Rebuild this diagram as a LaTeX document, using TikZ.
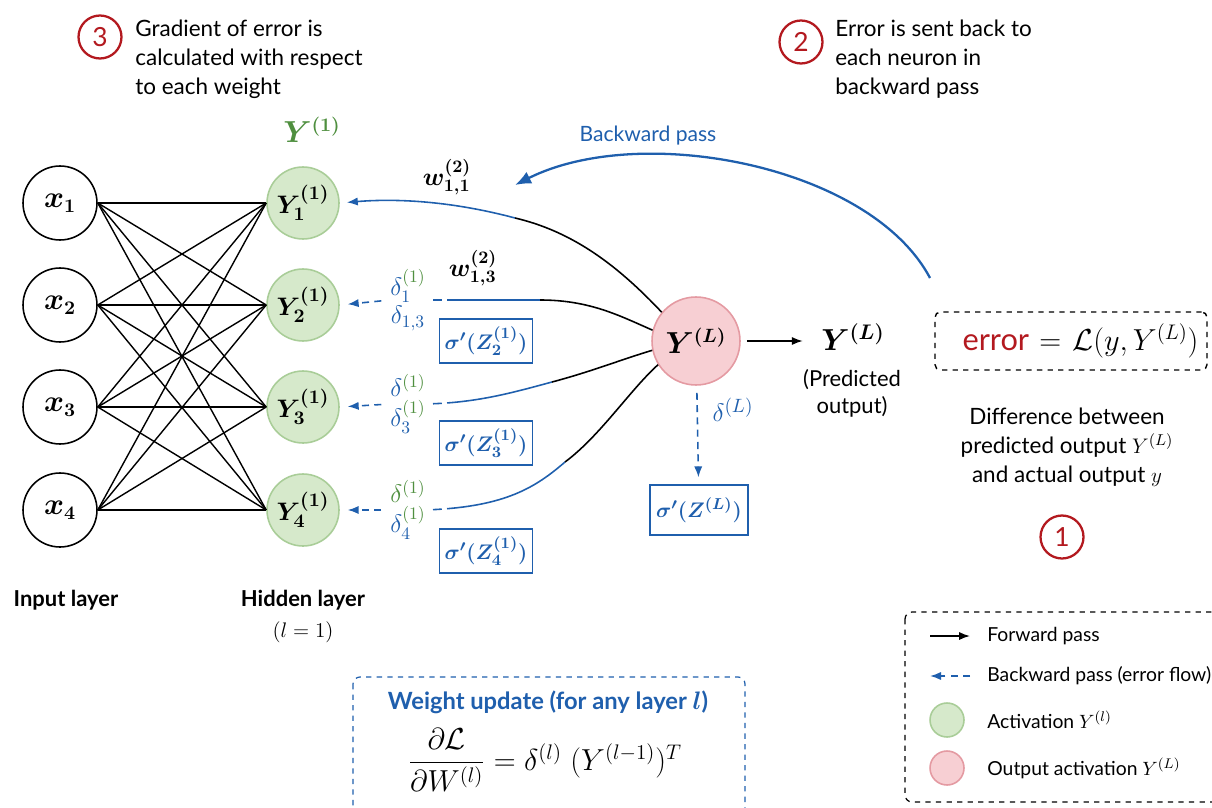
\documentclass[tikz,border=0pt]{standalone}
\usepackage{amssymb,amsmath}
\usepackage[no-math]{fontspec}
\setmainfont{Lato}
\usetikzlibrary{calc}
\usetikzlibrary{arrows.meta}
\usetikzlibrary{positioning}

\definecolor{bpblue}{HTML}{1F5FAD}
\definecolor{actgreen}{HTML}{4F8F3F}
\definecolor{gfill}{HTML}{D6E9CB}
\definecolor{gdraw}{HTML}{A9CD98}
\definecolor{pfill}{HTML}{F7CFD3}
\definecolor{pdraw}{HTML}{E49AA2}
\definecolor{errred}{HTML}{B3191F}

\tikzset{
  innode/.style={circle, draw=black, line width=0.9pt, minimum size=1.48cm, inner sep=0pt, font=\fontsize{16}{16}\selectfont},
  hidnode/.style={circle, draw=gdraw, fill=gfill, line width=0.9pt, minimum size=1.44cm, inner sep=0pt, font=\fontsize{15}{15}\selectfont},
  outnode/.style={circle, draw=pdraw, fill=pfill, line width=0.9pt, minimum size=1.76cm, inner sep=0pt, font=\fontsize{16}{16}\selectfont},
  sigbox/.style={draw=bpblue, line width=0.7pt, text=bpblue, minimum width=1.86cm, minimum height=0.88cm, inner sep=0pt, font=\fontsize{13}{13}\selectfont},
  badge/.style={circle, draw=errred, line width=1.3pt, text=errred, minimum size=0.86cm, inner sep=0pt, font=\fontsize{15}{15}\selectfont},
  note/.style={align=left, anchor=north west, inner sep=0pt, font=\fontsize{12.8}{16.5}\selectfont},
  dlabel/.style={align=center, text=bpblue, inner sep=0pt, font=\fontsize{14.5}{13}\selectfont},
  legtext/.style={anchor=west, inner sep=0pt, font=\fontsize{11}{11}\selectfont},
  fwd/.style={-{Latex[length=2.2mm]}, line width=0.9pt},
  bwd/.style={bpblue, line width=0.9pt, dash pattern=on 4pt off 3pt, -{Latex[length=2.2mm]}},
  bline/.style={bpblue, line width=0.9pt},
}

\begin{document}
\begin{tikzpicture}[x=0.02cm, y=-0.02cm]
    \useasboundingbox (0,0) rectangle (1212,807);
    \clip (0,0) rectangle (1212,807);

    % layers
    \foreach \i/\y in {1/203,2/305,3/407,4/510}{
        \node (x\i) [innode] at (60,\y) {$\boldsymbol{x_{\i}}$};
        \node (Y\i) [hidnode] at (303,\y) {$\boldsymbol{Y^{(1)}_{\i}}$};
    }
    \foreach \i in {1,...,4}
        \foreach \j in {1,...,4}
            \draw[line width=0.8pt] (x\i.east) -- (Y\j.west);
    \node (Ytop) [text=actgreen, font=\fontsize{16}{16}\selectfont] at (312,130) {$\boldsymbol{Y^{(1)}}$};

    \node (inlab) [font=\bfseries\fontsize{12.5}{15}\selectfont] at (66,600) {Input layer};
    \node (hidlab) [font=\bfseries\fontsize{12.5}{15}\selectfont] at (303,600) {Hidden layer};
    \node (lval) [font=\fontsize{13}{13}\selectfont] at (303,632) {$(l=1)$};

    % output
    \node (out) [outnode] at (696,341) {$\boldsymbol{Y^{(L)}}$};
    \node (pred) [font=\fontsize{17}{17}\selectfont] at (853,337) {$\boldsymbol{Y^{(L)}}$};
    \draw[fwd, shorten <=3.4pt, shorten >=7pt] (out.east) -- (out.east -| pred.west);
    \node (predtxt) [align=center, font=\fontsize{12.5}{15.5}\selectfont] at (852,393) {(Predicted\\output)};
    \node (sigL) [sigbox, minimum width=1.96cm, minimum height=1cm] at (699,510) {$\boldsymbol{\sigma'(Z^{(L)})}$};
    \draw[bwd, shorten <=4pt, shorten >=4pt] (out) -- (sigL);
    \node (dL) [text=bpblue, font=\fontsize{15}{15}\selectfont] at (733,410) {$\delta^{(L)}$};

    % backward flow to hidden layer
    \foreach \i/\y in {2/341,3/443,4/551}
        \node (sig\i) [sigbox] at (486,\y) {$\boldsymbol{\sigma'(Z^{(1)}_{\i})}$};
    \node (d2) [dlabel] at (408,300) {$\delta^{\textcolor{actgreen}{(1)}}_{1}$\\[1pt]$\delta_{1,3}$};
    \node (d3) [dlabel] at (408,404) {$\delta^{\textcolor{actgreen}{(1)}}$\\[1pt]$\delta^{\textcolor{actgreen}{(1)}}_{3}$};
    \node (d4) [dlabel] at (408,510) {$\textcolor{actgreen}{\delta^{(1)}}$\\[1pt]$\delta^{\textcolor{actgreen}{(1)}}_{4}$};
    \foreach \i in {2,3,4}
        \draw[bwd, shorten <=5pt, shorten >=4.5pt] (d\i.west) -- (Y\i.east);

    \coordinate (m1) at (515,218);
    \coordinate (m2) at (540,300);
    \coordinate (m3) at (552,382);
    \coordinate (m4) at (565,462);
    \draw[line width=0.9pt] (out.140) .. controls (620,268) and (575,232) .. (m1);
    \draw[bline, -{Latex[length=2.2mm]}, shorten >=4pt] (m1) .. controls (455,202) and (400,198) .. (Y1.east);
    \draw[bline, dash pattern=on 5pt off 3pt on 300pt, shorten <=4pt] (d2.east) -- (m2);
    \draw[line width=0.9pt] (m2) .. controls (590,300) and (620,316) .. (out.166);
    \draw[bline, dash pattern=on 5pt off 3pt on 300pt, shorten <=4pt] (d3.east) .. controls (480,402) and (515,392) .. (m3);
    \draw[line width=0.9pt] (m3) .. controls (590,372) and (620,360) .. (out.192);
    \draw[bline, dash pattern=on 5pt off 3pt on 300pt, shorten <=4pt] (d4.east) .. controls (505,506) and (535,488) .. (m4);
    \draw[line width=0.9pt] (m4) .. controls (600,436) and (630,390) .. (out.212);

    \node (w11) [font=\fontsize{14}{14}\selectfont] at (447,177) {$\boldsymbol{w^{(2)}_{1,1}}$};
    \node (w13) [font=\fontsize{14}{14}\selectfont] at (473,268) {$\boldsymbol{w^{(2)}_{1,3}}$};

    % backward pass arc
    \coordinate (bpstart) at (930,278);
    \coordinate (bptip) at (515,185);
    \draw[bpblue, line width=1.3pt, -{Latex[length=3.2mm, width=2.6mm]}] (bpstart) .. controls (870,165) and (640,122) .. (bptip);
    \node (bplabel) [text=bpblue, font=\fontsize{12}{12}\selectfont] at (648,136) {Backward pass};

    % steps
    \node (n3) [badge] at (100,37) {3};
    \node (t3) [note] at (135,20) {Gradient of error is\\calculated with respect\\to each weight};
    \node (n2) [badge] at (801,42) {2};
    \node (t2) [note] at (835,20) {Error is sent back to\\each neuron in\\backward pass};

    \node (errbox) [draw, dashed, rounded corners=3pt, line width=0.8pt, text width=5.1cm, align=right, inner xsep=0.17cm, minimum height=1.16cm, font=\fontsize{17.5}{17.5}\selectfont] at (1071,341) {\textcolor{errred}{error} $= \mathcal{L}(y, Y^{(L)})$};
    \node (diff) [align=center, font=\fontsize{12.8}{16.5}\selectfont] at (1067,447) {Difference between\\predicted output $Y^{(L)}$\\and actual output $y$};
    \node (n1) [badge] at (1062,537) {1};

    % weight update
    \draw[bpblue, dashed, rounded corners=4pt, line width=0.7pt] (353,677) rectangle (745,840);
    \node (wtitle) [text=bpblue, font=\bfseries\fontsize{13.5}{13.5}\selectfont] at (548,702) {Weight update (for any layer $\boldsymbol{l}$)};
    \node (wform) [font=\fontsize{17}{17}\selectfont] at (545,760) {$\dfrac{\partial\mathcal{L}}{\partial W^{(l)}} = \delta^{(l)}\;(Y^{(l-1)})^{T}$};

    % legend
    \draw[dashed, rounded corners=4pt, line width=0.7pt] (905,612) rectangle (1240,802);
    \coordinate (lf1) at (930,636); \coordinate (lf2) at (970,636);
    \coordinate (lb1) at (970,676); \coordinate (lb2) at (930,676);
    \draw[fwd] (lf1) -- (lf2);
    \draw[bwd] (lb1) -- (lb2);
    \node (lgc1) [hidnode, minimum size=0.68cm] at (947,720) {};
    \node (lgc2) [outnode, minimum size=0.68cm] at (947,768) {};
    \node (lgt1) [legtext] at (987,636) {Forward pass};
    \node (lgt2) [legtext] at (987,676) {Backward pass (error flow)};
    \node (lgt3) [legtext] at (987,720) {Activation $Y^{(l)}$};
    \node (lgt4) [legtext] at (987,768) {Output activation $Y^{(L)}$};
\end{tikzpicture}
\end{document}
